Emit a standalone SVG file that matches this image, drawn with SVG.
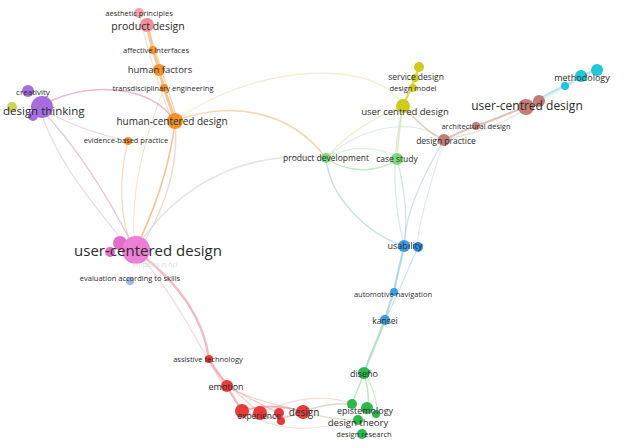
<svg xmlns="http://www.w3.org/2000/svg" width="626" height="448" viewBox="0 0 626 448">
<style>
text{font-family:"Open Sans","Liberation Sans",sans-serif;fill:#2b2b2b;text-anchor:middle}
.e{fill:none;stroke-linecap:round}
.s{font-size:7.5px}
.m{font-size:8.5px}
.l{font-size:10px}
</style>
<rect width="626" height="448" fill="#fff"/>
<g id="edges">
<path class="e" d="M40,106 C90,80 150,85 175,121" stroke="#d9a0c8" stroke-width="1.5" opacity="0.7"/>
<path class="e" d="M40,108 C80,150 110,200 135,250" stroke="#e0a0c0" stroke-width="1.3" opacity="0.6"/>
<path class="e" d="M40,110 C60,170 100,210 128,248" stroke="#e8b0c8" stroke-width="1.2" opacity="0.5"/>
<path class="e" d="M40,108 C70,125 100,135 128,141" stroke="#e0b0c0" stroke-width="1.2" opacity="0.5"/>
<path class="e" d="M147,25 C150,40 152,45 153,50 C156,60 158,65 159,70 C161,78 163,84 164,88 C168,100 172,110 175,121" stroke="#f3b06a" stroke-width="3" opacity="0.7"/>
<path class="e" d="M147,25 C155,50 165,80 178,121" stroke="#f5c090" stroke-width="1.5" opacity="0.6"/>
<path class="e" d="M139,13 C150,60 160,90 172,121" stroke="#f5c0a0" stroke-width="1.2" opacity="0.5"/>
<path class="e" d="M175,121 C170,170 150,220 135,250" stroke="#f3a870" stroke-width="1.6" opacity="0.7"/>
<path class="e" d="M175,121 C180,170 160,220 138,250" stroke="#f0b090" stroke-width="1.3" opacity="0.5"/>
<path class="e" d="M128,141 C118,180 120,220 133,250" stroke="#f0b890" stroke-width="1.3" opacity="0.5"/>
<path class="e" d="M164,88 C140,150 130,200 135,250" stroke="#f0c0a0" stroke-width="1" opacity="0.5"/>
<path class="e" d="M175,121 C230,100 290,110 326,158" stroke="#f0c890" stroke-width="1.6" opacity="0.7"/>
<path class="e" d="M175,121 C260,60 380,60 403,106" stroke="#e8dca0" stroke-width="1.2" opacity="0.5"/>
<path class="e" d="M135,250 C180,180 250,150 326,158" stroke="#e0d8d8" stroke-width="1.5" opacity="0.7"/>
<path class="e" d="M326,158 C350,130 380,115 403,106" stroke="#d8e0a0" stroke-width="1.3" opacity="0.6"/>
<path class="e" d="M326,158 C350,175 380,172 397,159" stroke="#a8e0a8" stroke-width="1.5" opacity="0.7"/>
<path class="e" d="M326,158 C350,145 380,145 397,159" stroke="#b8e8b8" stroke-width="1.2" opacity="0.5"/>
<path class="e" d="M326,158 C370,120 420,120 444,140" stroke="#c8d8d0" stroke-width="1.2" opacity="0.5"/>
<path class="e" d="M326,158 C330,200 370,235 404,246" stroke="#a8d0e0" stroke-width="1.4" opacity="0.7"/>
<path class="e" d="M403,106 C400,125 398,140 397,159" stroke="#d8e080" stroke-width="1.5" opacity="0.6"/>
<path class="e" d="M403,106 C420,125 432,135 444,140" stroke="#c8b090" stroke-width="1.5" opacity="0.6"/>
<path class="e" d="M419,67 C415,80 408,95 403,106" stroke="#d8d040" stroke-width="2.5" opacity="0.8"/>
<path class="e" d="M403,106 C390,160 395,210 404,246" stroke="#c0d8e0" stroke-width="1.2" opacity="0.6"/>
<path class="e" d="M397,159 C405,190 408,220 404,246" stroke="#b0d8d0" stroke-width="1.3" opacity="0.6"/>
<path class="e" d="M444,140 C420,180 405,215 404,246" stroke="#b8c8d8" stroke-width="1.3" opacity="0.6"/>
<path class="e" d="M444,140 C425,200 415,240 418,247" stroke="#c0d0e0" stroke-width="1" opacity="0.5"/>
<path class="e" d="M444,140 C460,132 468,128 476,126 C495,120 510,112 526,107" stroke="#d0a8a0" stroke-width="2.2" opacity="0.7"/>
<path class="e" d="M444,140 C490,130 510,120 539,101" stroke="#d0c0c8" stroke-width="1.2" opacity="0.5"/>
<path class="e" d="M526,107 C545,95 555,90 565,86 C572,82 577,78 581,76 C588,73 593,71 597,70" stroke="#a0d8e0" stroke-width="2" opacity="0.7"/>
<path class="e" d="M539,101 C560,90 575,82 597,70" stroke="#b0e0e8" stroke-width="1.2" opacity="0.5"/>
<path class="e" d="M404,246 C400,265 396,280 394,292 C390,302 387,312 385,320" stroke="#90c8e8" stroke-width="2" opacity="0.7"/>
<path class="e" d="M418,247 C408,270 395,300 385,320" stroke="#a8d0e8" stroke-width="1.2" opacity="0.6"/>
<path class="e" d="M385,320 C378,340 370,355 364,373" stroke="#90d8b0" stroke-width="2.2" opacity="0.7"/>
<path class="e" d="M404,246 C395,300 375,340 364,373" stroke="#b0e0c8" stroke-width="1.2" opacity="0.5"/>
<path class="e" d="M364,373 C360,385 355,395 352,404" stroke="#90d8a0" stroke-width="1.5" opacity="0.6"/>
<path class="e" d="M364,373 C368,388 370,400 367,408" stroke="#90d8a0" stroke-width="1.5" opacity="0.6"/>
<path class="e" d="M364,373 C375,390 378,402 376,414" stroke="#a0e0a8" stroke-width="1.2" opacity="0.5"/>
<path class="e" d="M303,412 C320,405 335,403 352,404" stroke="#c8c0a0" stroke-width="1.6" opacity="0.6"/>
<path class="e" d="M303,412 C325,418 340,420 358,420" stroke="#d0c8b0" stroke-width="1.3" opacity="0.5"/>
<path class="e" d="M260,413 C300,395 330,395 352,404" stroke="#e0c0b0" stroke-width="1.2" opacity="0.5"/>
<path class="e" d="M242,411 C290,440 330,425 358,420" stroke="#e0c8b8" stroke-width="1.2" opacity="0.5"/>
<path class="e" d="M135,250 C190,290 205,330 209,359 C215,370 222,378 227,386 C232,396 238,404 242,411" stroke="#f0a0a8" stroke-width="2.5" opacity="0.7"/>
<path class="e" d="M135,250 C180,300 200,350 224,386" stroke="#f4b8c0" stroke-width="1.3" opacity="0.5"/>
<path class="e" d="M209,359 C220,380 245,400 260,413" stroke="#f0a8a8" stroke-width="1.3" opacity="0.5"/>
<path class="e" d="M227,386 C245,395 260,405 279,413" stroke="#f0a0a0" stroke-width="1.3" opacity="0.6"/>
<path class="e" d="M227,386 C250,400 280,405 303,412" stroke="#f0a8a8" stroke-width="1.3" opacity="0.5"/>
<path class="e" d="M242,411 C260,405 285,405 303,412" stroke="#ee9090" stroke-width="2" opacity="0.7"/>
<path class="e" d="M242,411 C265,420 285,420 303,412" stroke="#f0a0a0" stroke-width="1.5" opacity="0.6"/>
</g>
<g id="n-aesthetic-principles"><circle cx="139" cy="13" r="5" fill="#f4a0a8"/><text class="s" x="139" y="16">aesthetic principles</text></g>
<g id="n-product-design"><circle cx="147" cy="25" r="7" fill="#f28e98"/><text x="148" y="30" style="font-size:10.5px">product design</text></g>
<g id="n-affective-interfaces"><circle cx="153" cy="50" r="4" fill="#f5922a"/><text class="s" x="156" y="53">affective interfaces</text></g>
<g id="n-human-factors"><circle cx="159" cy="70" r="6" fill="#f5922a"/><text x="160" y="73" style="font-size:9.5px">human factors</text></g>
<g id="n-transdisciplinary-engineering"><circle cx="164" cy="88" r="4" fill="#f5922a"/><text class="s" x="163" y="91">transdisciplinary engineering</text></g>
<g id="n-human-centered-design"><circle cx="175" cy="121" r="8" fill="#f5922a"/><text class="l" x="172" y="125">human-centered design</text></g>
<g id="n-evidence-based-practice"><circle cx="128" cy="141" r="4" fill="#f5922a"/><text class="s" x="126" y="143">evidence-based practice</text></g>
<g id="n-design-thinking"><circle cx="12" cy="107" r="5" fill="#ccd55a"/><circle cx="28" cy="91" r="6" fill="#a56ddd"/><circle cx="33" cy="116" r="5" fill="#a56ddd"/><circle cx="42" cy="107" r="11" fill="#a56ddd"/><text x="33" y="95" style="font-size:8px">creativity</text><text x="3" y="115" style="font-size:11.5px;text-anchor:start">design thinking</text></g>
<g id="n-user-centered-design"><circle cx="120" cy="243" r="7" fill="#e46ccc"/><circle cx="110" cy="252" r="5" fill="#e46ccc"/><circle cx="136" cy="250" r="14" fill="#ec7fd8"/><text x="148" y="256" style="font-size:15px">user-centered design</text><text x="155" y="267" style="font-size:6.5px;fill:#dcdcdc">empathy in hci</text></g>
<g id="n-evaluation-according-to-skills"><circle cx="130" cy="281" r="4" fill="#9db8e2"/><text class="s" x="130" y="281">evaluation according to skills</text></g>
<g id="n-product-development"><circle cx="326" cy="158" r="5" fill="#7ada7a"/><text class="m" x="326" y="161">product development</text></g>
<g id="n-case-study"><circle cx="397" cy="159" r="6" fill="#7ada7a"/><text class="m" x="397" y="162">case study</text></g>
<g id="n-service-design"><circle cx="419" cy="67" r="5" fill="#cfcc1e"/><circle cx="415" cy="78" r="4" fill="#cfcc1e"/><text class="m" x="416" y="80">service design</text></g>
<g id="n-design-model"><circle cx="413" cy="88" r="4" fill="#cfcc1e"/><text class="s" x="413" y="91">design model</text></g>
<g id="n-user-centred-design-y"><circle cx="403" cy="106" r="7" fill="#cfcc1e"/><text x="405" y="115" style="font-size:9.5px">user centred design</text></g>
<g id="n-user-centred-design-b"><circle cx="539" cy="101" r="6" fill="#c27d74"/><circle cx="526" cy="107" r="8" fill="#c27d74"/><text x="527" y="110" style="font-size:12px">user-centred design</text></g>
<g id="n-architectural-design"><circle cx="476" cy="126" r="4" fill="#c27d74"/><text class="s" x="476" y="129">architectural design</text></g>
<g id="n-design-practice"><circle cx="444" cy="140" r="6" fill="#c27d74"/><text class="m" x="446" y="144">design practice</text></g>
<g id="n-methodology"><circle cx="565" cy="86" r="4" fill="#22c6dc"/><circle cx="581" cy="76" r="6" fill="#22c6dc"/><circle cx="597" cy="70" r="6" fill="#22c6dc"/><text x="582" y="81" style="font-size:9px">methodology</text></g>
<g id="n-usability"><circle cx="418" cy="247" r="5" fill="#2f8fdc"/><circle cx="404" cy="246" r="6" fill="#3d9be2"/><text x="405" y="249" style="font-size:9px">usability</text></g>
<g id="n-automotive-navigation"><circle cx="394" cy="292" r="4" fill="#3d9be2"/><text class="s" x="393" y="297">automotive navigation</text></g>
<g id="n-kansei"><circle cx="385" cy="320" r="5" fill="#3d9be2"/><text class="m" x="385" y="324">kansei</text></g>
<g id="n-diseno"><circle cx="364" cy="373" r="6" fill="#2db84c"/><text x="364" y="377" style="font-size:9px">diseño</text></g>
<g id="n-epistemology"><circle cx="352" cy="404" r="5" fill="#2db84c"/><circle cx="367" cy="408" r="6" fill="#2db84c"/><circle cx="376" cy="414" r="4" fill="#2db84c"/><text x="365" y="414" style="font-size:9px">epistemology</text></g>
<g id="n-design-theory"><circle cx="358" cy="420" r="5" fill="#2db84c"/><text x="358" y="426" style="font-size:9.5px">design theory</text></g>
<g id="n-design-research"><circle cx="362" cy="434" r="5" fill="#2db84c"/><text class="s" x="364" y="437">design research</text></g>
<g id="n-assistive-technology"><circle cx="209" cy="359" r="4" fill="#e83a3a"/><text class="s" x="208" y="362">assistive technology</text></g>
<g id="n-emotion"><circle cx="227" cy="386" r="6" fill="#e83a3a"/><text x="226" y="390" style="font-size:9px">emotion</text></g>
<g id="n-experience"><circle cx="242" cy="411" r="7" fill="#e83a3a"/><circle cx="260" cy="413" r="7" fill="#e83a3a"/><circle cx="279" cy="413" r="5" fill="#e83a3a"/><circle cx="281" cy="421" r="4" fill="#e83a3a"/><text class="m" x="259" y="419">experience</text></g>
<g id="n-design"><circle cx="303" cy="412" r="7" fill="#e83a3a"/><text x="304" y="416" style="font-size:10px">design</text></g>
</svg>
